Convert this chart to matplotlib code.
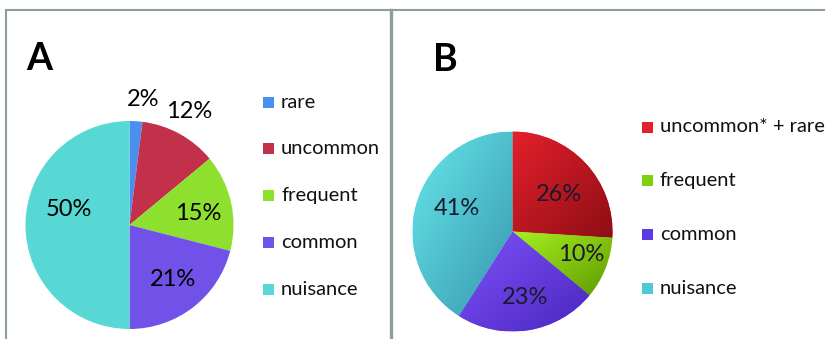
import numpy as np
import matplotlib
matplotlib.use("Agg")
import matplotlib.pyplot as plt
from matplotlib.colors import LinearSegmentedColormap, to_rgb
from matplotlib.lines import Line2D
from matplotlib.patches import Rectangle

plt.rcParams['font.family'] = ['Lato', 'DejaVu Sans']

# Panel A: all categories
labels_a = ['rare', 'uncommon', 'frequent', 'common', 'nuisance']
values_a = [2, 12, 15, 21, 50]
colors_a = ['#4A8FEF', '#C3304A', '#8EE02E', '#7052E8', '#58D8D4']

# Panel B: uncommon and rare merged
labels_b = ['uncommon* + rare', 'frequent', 'common', 'nuisance']
values_b = [26, 10, 23, 41]
light_b = ['#E4202C', '#A8F020', '#7E52F8', '#66E8EC']
dark_b = ['#8E0E14', '#5E9A00', '#4A26C0', '#3896AE']

W, H = 825, 339
fig = plt.figure(figsize=(W / 100, H / 100), dpi=100)
fig.patch.set_facecolor('white')


def px_axes(cx, cy, r):
    ax = fig.add_axes([(cx - r) / W, (H - cy - r) / H, 2 * r / W, 2 * r / H])
    ax.axis('off')
    return ax


def fix_limits(ax):
    ax.set_xlim(-1, 1)
    ax.set_ylim(-1, 1)
    ax.axis('off')


def place_labels(ax, wedges, values, dists, shifts, color):
    for w, v, d, s in zip(wedges, values, dists, shifts):
        ang = np.deg2rad((w.theta1 + w.theta2) / 2 + s)
        ax.text(d * np.cos(ang), d * np.sin(ang), f'{v}%', ha='center',
                va='center', fontsize=17, color=color, clip_on=False)


def draw_legend(labels, colors, x0, y0, step):
    for i, (lab, col) in enumerate(zip(labels, colors)):
        yc = y0 + i * step
        fig.add_artist(Rectangle((x0 / W, (H - yc - 5.5) / H), 11 / W, 11 / H,
                                 transform=fig.transFigure, facecolor=col,
                                 edgecolor='none'))
        fig.text((x0 + 18) / W, (H - yc) / H, lab, ha='left', va='center',
                 fontsize=14.5, color='#111111')


# Panel A pie
ax_a = px_axes(129.5, 225, 104)
wedges_a, _ = ax_a.pie(values_a, colors=colors_a, startangle=90,
                       counterclock=False, radius=1,
                       wedgeprops=dict(linewidth=0))
fix_limits(ax_a)
place_labels(ax_a, wedges_a, values_a,
             [1.21, 1.23, 0.67, 0.67, 0.60],
             [-2.6, 1.0, -2.7, 0.5, -14], 'black')

# Panel B pie with per-wedge shading
ax_b = px_axes(512.5, 231.5, 100)
wedges_b, _ = ax_b.pie(values_b, colors=light_b, startangle=90,
                       counterclock=False, radius=1,
                       wedgeprops=dict(linewidth=0))
for w, c1, c2 in zip(wedges_b, light_b, dark_b):
    verts = w.get_path().vertices
    x0, x1 = verts[:, 0].min(), verts[:, 0].max()
    y0, y1 = verts[:, 1].min(), verts[:, 1].max()
    gx, gy = np.meshgrid(np.linspace(0, 1, 64), np.linspace(0, 1, 64))
    grad = (gx + (1 - gy)) / 2.0
    cmap = LinearSegmentedColormap.from_list('shade', [to_rgb(c1), to_rgb(c2)])
    im = ax_b.imshow(grad, cmap=cmap, extent=(x0, x1, y1, y0),
                     interpolation='bilinear', zorder=w.get_zorder() + 0.1,
                     aspect='auto')
    im.set_clip_path(w)
fix_limits(ax_b)
place_labels(ax_b, wedges_b, values_b,
             [0.60, 0.73, 0.67, 0.60],
             [-4.6, 2.9, 2.1, -5.9], '#1A1A2E')

# Legends
draw_legend(labels_a, colors_a, 263, 102, 46.8)
mid_b = [light_b[0], '#80D010', '#5E38E0', '#4EC8D8']
draw_legend(labels_b, mid_b, 642, 127, 53.7)

# Panel titles
fig.text(26 / W, (H - 70) / H, 'A', fontsize=27, fontweight='bold',
         ha='left', va='baseline')
fig.text(433 / W, (H - 71) / H, 'B', fontsize=27, fontweight='bold',
         ha='left', va='baseline')

# Panel frames
frame_col = '#8C9E9E'
fig.add_artist(Line2D([6 / W, 1.0], [(H - 10) / H, (H - 10) / H],
                      transform=fig.transFigure, color=frame_col, lw=1.5))
fig.add_artist(Line2D([6 / W, 6 / W], [0, (H - 10) / H],
                      transform=fig.transFigure, color=frame_col, lw=1.5))
fig.add_artist(Line2D([391 / W, 391 / W], [0, (H - 10) / H],
                      transform=fig.transFigure, color=frame_col, lw=2.4))

fig.savefig('out.png', dpi=100, facecolor='white')
